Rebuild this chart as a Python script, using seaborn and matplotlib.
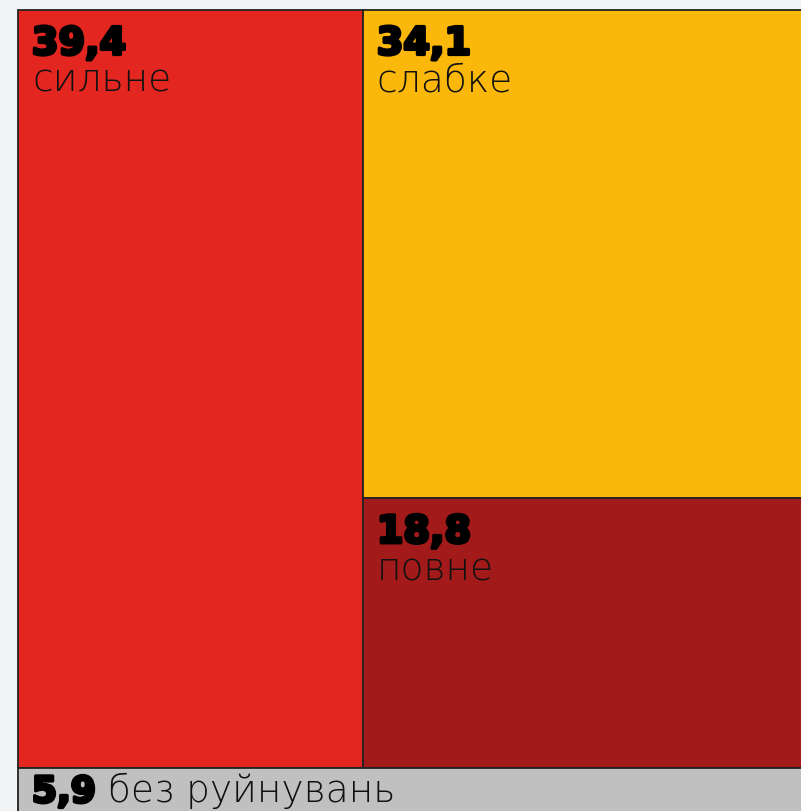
import matplotlib
matplotlib.use("Agg")
import matplotlib.pyplot as plt
import matplotlib.patheffects as pe
import seaborn as sns

# share of damaged buildings, %
labels = ["сильне", "слабке", "повне", "без руйнувань"]
values = [39.4, 34.1, 18.8, 5.9]
shown = ["39,4", "34,1", "18,8", "5,9"]
colors = ["#e32620", "#fbb80b", "#a21a19", "#c0c0c0"]

sns.set_theme(style="white")
plt.rcParams["font.family"] = ["DejaVu Sans"]

W, H = 808.0, 806.0
total = sum(values)

# slice-and-dice layout: bottom strip for the last item, then column for first, stacked rest
h_bottom = H * values[3] / total
h_top = H - h_bottom
upper = sum(values[:3])
w_left = W * values[0] / upper
w_right = W - w_left
h_yellow = h_top * values[1] / (values[1] + values[2])

rects = [
    (0, 0, w_left, h_top),
    (w_left, 0, w_right, h_yellow),
    (w_left, h_yellow, w_right, h_top - h_yellow),
    (0, h_top, W, h_bottom),
]

fig = plt.figure(figsize=(8.01, 8.11), dpi=100)
fig.patch.set_facecolor("#f2f3f5")
ax = fig.add_axes([0, 0, 1, 1])
ax.set_facecolor("#f2f3f5")

for (x0, y0, w, h), c in zip(rects, colors):
    ax.bar(x0, h, width=w, bottom=y0, align="edge", color=c,
           edgecolor="#222222", linewidth=1.3)

thick = [pe.withStroke(linewidth=2.4, foreground="#000000")]
num_font = dict(family=["DejaVu Sans"], weight="heavy", path_effects=thick)
lab_font = dict(family=["DejaVu Sans"], weight=200)

for i in range(3):
    x0, y0, w, h = rects[i]
    ax.annotate(shown[i], xy=(x0, y0), xytext=(10, -32), textcoords="offset points",
                ha="left", va="baseline", fontsize=27.5, color="#000000", **num_font)
    ax.annotate(labels[i], xy=(x0, y0), xytext=(10, -59), textcoords="offset points",
                ha="left", va="baseline", fontsize=27, color="#111111", **lab_font)

x0, y0, w, h = rects[3]
t = ax.annotate(shown[3], xy=(x0, y0), xytext=(10, -25), textcoords="offset points",
                ha="left", va="baseline", fontsize=26, color="#000000",
                annotation_clip=False, **num_font)
ax.annotate(" " + labels[3], xy=(1, y0), xycoords=(t, "data"), xytext=(0, -25),
            textcoords="offset points", ha="left", va="baseline", fontsize=27,
            color="#111111", annotation_clip=False, **lab_font)

ax.set_xlim(-18, 783)
ax.set_ylim(801, -10)
ax.axis("off")

fig.savefig("out.png", dpi=100, facecolor=fig.get_facecolor())
